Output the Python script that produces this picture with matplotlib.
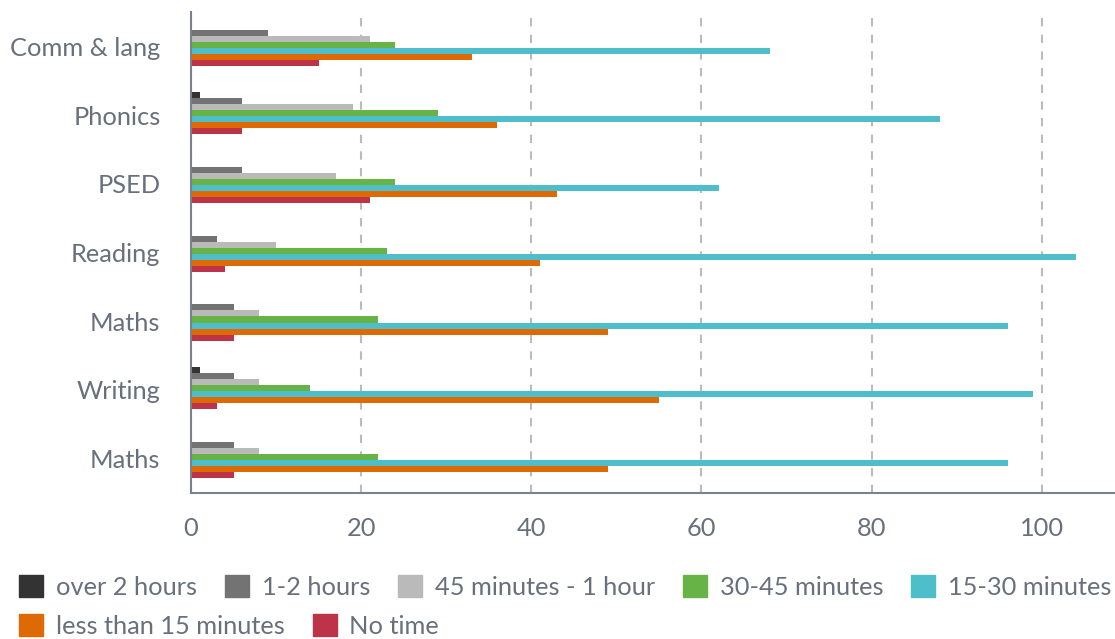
import numpy as np
import matplotlib
matplotlib.use("Agg")
import matplotlib.pyplot as plt
from matplotlib.patches import Patch

plt.rcParams['font.family'] = ['Lato', 'DejaVu Sans']

categories = ["Comm & lang", "Phonics", "PSED", "Reading", "Maths", "Writing", "Maths"]
series_names = ["over 2 hours", "1-2 hours", "45 minutes - 1 hour", "30-45 minutes",
                "15-30 minutes", "less than 15 minutes", "No time"]
over_2h = [0, 1, 0, 0, 0, 1, 0]
h1_2 = [9, 6, 6, 3, 5, 5, 5]
m45_1h = [21, 19, 17, 10, 8, 8, 8]
m30_45 = [24, 29, 24, 23, 22, 14, 22]
m15_30 = [68, 88, 62, 104, 96, 99, 96]
less_15 = [33, 36, 43, 41, 49, 55, 49]
no_time = [15, 6, 21, 4, 5, 3, 5]
colors = ["#333333", "#737373", "#bababa", "#67b346", "#4fbecb", "#dd6a05", "#bd3347"]

series = [over_2h, h1_2, m45_1h, m30_45, m15_30, less_15, no_time]
text_col = "#68707c"

fig = plt.figure(figsize=(11.15, 6.39), dpi=100)
ax = fig.add_axes([191 / 1115, 1 - 493 / 639, 1 - 191 / 1115, 481 / 639])

y = np.arange(len(categories))
bh = 0.0875
for i, (vals, c) in enumerate(zip(series, colors)):
    offs = (i - 3) * bh - 0.025
    ax.barh(y + offs, vals, height=bh, color=c, zorder=3, label=series_names[i])

ax.set_yticks(y)
ax.set_yticklabels(categories)
ax.set_ylim(len(categories) - 0.5, -0.5)
ax.set_xlim(0, 108.6)
ax.set_xticks([0, 20, 40, 60, 80, 100])
ax.grid(axis='x', linestyle=(0, (4, 4)), color="#bbbbbb", linewidth=1.5, zorder=0)
ax.tick_params(axis='both', length=0, labelsize=18.3, labelcolor=text_col)
ax.tick_params(axis='x', pad=17)
ax.tick_params(axis='y', pad=22)

for s in ['top', 'right']:
    ax.spines[s].set_visible(False)
for s in ['left', 'bottom']:
    ax.spines[s].set_color("#7a828e")
    ax.spines[s].set_linewidth(1.5)
    ax.spines[s].set_zorder(4)

handles = [Patch(facecolor=c, edgecolor=c, label=n) for c, n in zip(colors, series_names)]
leg_kw = dict(frameon=False, fontsize=18.3, labelcolor=text_col, handlelength=0.95,
              handleheight=0.95, handletextpad=0.5, columnspacing=1.1, borderpad=0,
              borderaxespad=0, loc='center left')
leg1 = fig.legend(handles[:5], series_names[:5], ncol=5,
                  bbox_to_anchor=(19 / 1115, 1 - 587 / 639), **leg_kw)
leg2 = fig.legend(handles[5:], series_names[5:], ncol=2,
                  bbox_to_anchor=(19 / 1115, 1 - 626 / 639), **leg_kw)

fig.savefig("out.png", dpi=100)
